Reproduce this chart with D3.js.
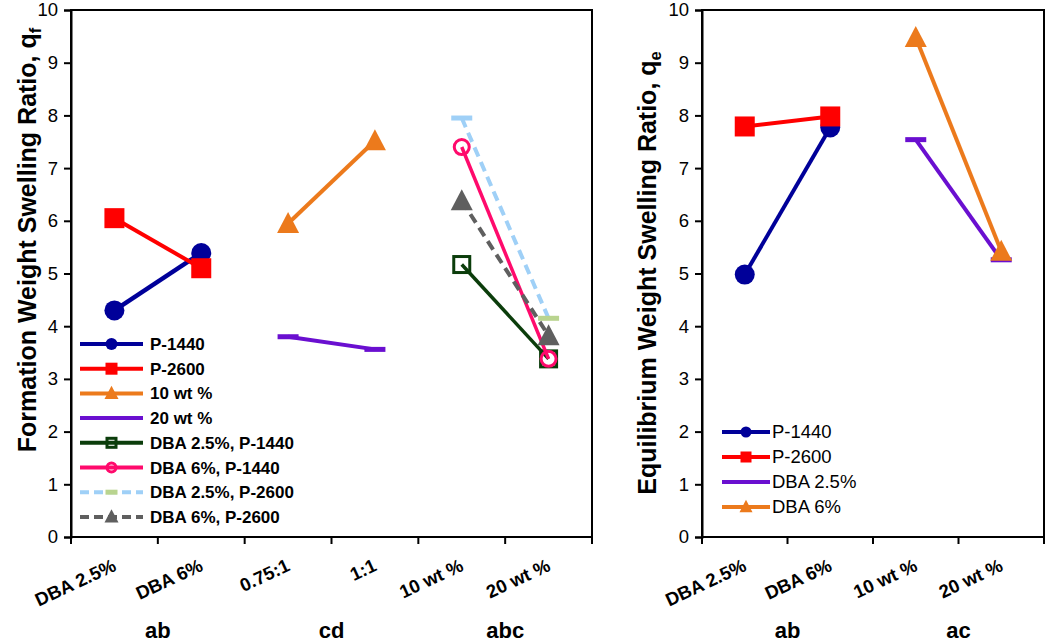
<!DOCTYPE html>
<html><head><meta charset="utf-8">
<script src="https://cdn.jsdelivr.net/npm/d3@7/dist/d3.min.js"></script>
<style>body{margin:0;background:#fff;} svg{display:block;font-family:"Liberation Sans",Arial,sans-serif;}</style>
</head><body>
<svg id="c" width="1050" height="643"></svg>
<script>
// ---------- DATA ----------
const leftCats = ["DBA 2.5%", "DBA 6%", "0.75:1", "1:1", "10 wt %", "20 wt %"];
const rightCats = ["DBA 2.5%", "DBA 6%", "10 wt %", "20 wt %"];
const yTicks = [0,1,2,3,4,5,6,7,8,9,10];
const leftGroups = ["ab", "cd", "abc"];
const rightGroups = ["ab", "ac"];

// Formation swelling ratio q_f (left)
const p1440F = [4.30, 5.39];          // DBA 2.5%, DBA 6%
const p2600F = [6.05, 5.10];
const wt10F = [5.95, 7.52];           // 0.75:1, 1:1
const wt20F = [3.80, 3.56];
const dba25p1440F = [5.17, 3.38];     // 10 wt %, 20 wt %
const dba6p1440F = [7.40, 3.38];
const dba25p2600F = [7.95, 4.15];
const dba6p2600F = [6.38, 3.82];

// Equilibrium swelling ratio q_e (right)
const p1440E = [4.98, 7.77];          // DBA 2.5%, DBA 6%
const p2600E = [7.79, 7.98];
const dba25E = [7.54, 5.26];          // 10 wt %, 20 wt %
const dba6E = [9.48, 5.42];

// ---------- STYLES ----------
const leftSeries = [
  {name:"P-1440", cats:["DBA 2.5%","DBA 6%"], vals:p1440F, color:"#000099", w:4.5, marker:"circle"},
  {name:"P-2600", cats:["DBA 2.5%","DBA 6%"], vals:p2600F, color:"#ff0000", w:4, marker:"square"},
  {name:"10 wt %", cats:["0.75:1","1:1"], vals:wt10F, color:"#ec7a1c", w:4, marker:"triangle"},
  {name:"20 wt %", cats:["0.75:1","1:1"], vals:wt20F, color:"#6a0fd0", w:4, marker:"dash"},
  {name:"DBA 2.5%, P-1440", cats:["10 wt %","20 wt %"], vals:dba25p1440F, color:"#0b3d0b", w:3.5, marker:"hsquare"},
  {name:"DBA 6%, P-1440", cats:["10 wt %","20 wt %"], vals:dba6p1440F, color:"#ff0a6c", w:3.5, marker:"hcircle"},
  {name:"DBA 2.5%, P-2600", cats:["10 wt %","20 wt %"], vals:dba25p2600F, color:"#9fd0f7", w:4, dash:"10,6", marker:"dash", mcolors:["#9fd0f7","#b9d48f"]},
  {name:"DBA 6%, P-2600", cats:["10 wt %","20 wt %"], vals:dba6p2600F, color:"#5f5f5f", w:4, dash:"10,6", marker:"triangle"}
];
const rightSeries = [
  {name:"P-1440", cats:["DBA 2.5%","DBA 6%"], vals:p1440E, color:"#000099", w:4, marker:"circle"},
  {name:"P-2600", cats:["DBA 2.5%","DBA 6%"], vals:p2600E, color:"#ff0000", w:4, marker:"square"},
  {name:"DBA 2.5%", cats:["10 wt %","20 wt %"], vals:dba25E, color:"#6a0fd0", w:4, marker:"dash"},
  {name:"DBA 6%", cats:["10 wt %","20 wt %"], vals:dba6E, color:"#ec7a1c", w:4, marker:"triangle"}
];

const svg = d3.select("#c");
const y = d3.scaleLinear().domain([0,10]).range([537, 10]);

function drawMarker(g, type, cx, cy, color, s) {
  if (type === "circle") {
    g.append("circle").attr("cx",cx).attr("cy",cy).attr("r",s/2).attr("fill",color);
  } else if (type === "square") {
    g.append("rect").attr("x",cx-s/2).attr("y",cy-s/2).attr("width",s).attr("height",s).attr("fill",color);
  } else if (type === "triangle") {
    const h = s*0.95;
    g.append("path").attr("d",`M${cx},${cy-h/2-2}L${cx+s/2+1},${cy+h/2}L${cx-s/2-1},${cy+h/2}Z`).attr("fill",color);
  } else if (type === "dash") {
    g.append("rect").attr("x",cx-s/2).attr("y",cy-2.5).attr("width",s).attr("height",5).attr("fill",color);
  } else if (type === "hsquare") {
    g.append("rect").attr("x",cx-s/2+1.5).attr("y",cy-s/2+1.5).attr("width",s-3).attr("height",s-3).attr("fill","none").attr("stroke",color).attr("stroke-width",3);
  } else if (type === "hcircle") {
    g.append("circle").attr("cx",cx).attr("cy",cy).attr("r",s/2-1.5).attr("fill","none").attr("stroke",color).attr("stroke-width",3);
  }
}

function panel(cfg) {
  const {x0, x1, cats, series, groups, title, sub, titleX, titleY, legend} = cfg;
  const x = d3.scaleBand().domain(cats).range([x0, x1]);
  const bw = x.bandwidth();
  const g = svg.append("g");

  g.append("rect").attr("x",x0).attr("y",y(10)).attr("width",x1-x0).attr("height",y(0)-y(10))
    .attr("fill","none").attr("stroke","#000").attr("stroke-width",2);

  const ya = g.append("g").attr("transform",`translate(${x0},0)`)
    .call(d3.axisLeft(y).tickValues(yTicks).tickSize(7).tickPadding(6).tickFormat(d3.format("d")));
  ya.select(".domain").attr("stroke-width",2);
  ya.selectAll(".tick line").attr("stroke-width",2);
  ya.selectAll("text").attr("font-size",18.5).attr("fill","#000").attr("font-family","Liberation Sans, Arial");

  const xa = g.append("g").attr("transform",`translate(0,${y(0)})`);
  const bounds = cats.map(c => x(c)).concat([x1]);
  xa.selectAll("line").data(bounds).join("line")
    .attr("x1",d=>d).attr("x2",d=>d).attr("y1",0).attr("y2",7).attr("stroke","#000").attr("stroke-width",2);
  xa.selectAll("text").data(cats).join("text")
    .attr("transform",c=>`translate(${x(c)+bw/2+3},${33}) rotate(-25)`)
    .attr("text-anchor","end").attr("font-size",18.5).attr("font-weight","bold").text(c=>c);

  groups.forEach((t,i)=>{
    g.append("text").attr("x",x(cats[2*i])+bw).attr("y",638).attr("text-anchor","middle")
      .attr("font-size",22).attr("font-weight","bold").text(t);
  });

  const tt = g.append("text").attr("transform",`translate(${titleX},${titleY}) rotate(-90)`)
    .attr("text-anchor","middle").attr("font-size",25).attr("font-weight","bold");
  tt.append("tspan").text(title);
  tt.append("tspan").attr("font-size",16.5).attr("dy",5).text(sub);

  series.forEach(s=>{
    const pts = s.cats.map((c,i)=>[x(c)+bw/2, y(s.vals[i])]);
    g.append("path").attr("d",d3.line()(pts)).attr("fill","none").attr("stroke",s.color)
      .attr("stroke-width",s.w).attr("stroke-dasharray",s.dash||null);
    pts.forEach((p,i)=>{
      const col = s.mcolors ? s.mcolors[i] : s.color;
      const sz = s.marker==="dash"?21:(s.marker==="hsquare"?19:(s.marker==="hcircle"?18:20));
      drawMarker(g, s.marker, p[0], p[1], col, sz);
    });
  });

  const lg = g.append("g");
  series.forEach((s,i)=>{
    const ly = legend.y + i*legend.dy;
    lg.append("line").attr("x1",legend.x).attr("x2",legend.x+legend.len).attr("y1",ly).attr("y2",ly)
      .attr("stroke",s.color).attr("stroke-width",4).attr("stroke-dasharray",s.dash?"9,5":null);
    const mc = s.mcolors ? s.mcolors[1] : s.color;
    if (s.marker!=="dash") drawMarker(lg, s.marker, legend.x+legend.len/2, ly, mc, legend.msize);
    else if (s.mcolors) lg.append("rect").attr("x",legend.x+legend.len/2-6).attr("y",ly-2.5).attr("width",12).attr("height",5).attr("fill",mc);
    lg.append("text").attr("x",legend.x+legend.len+legend.gap).attr("y",ly+6).attr("font-size",legend.fs)
      .attr("font-weight",legend.bold?"bold":"normal").text(s.name);
  });
}

panel({x0:71, x1:592, cats:leftCats, series:leftSeries, groups:leftGroups,
  title:"Formation Weight Swelling Ratio, q", sub:"f", titleX:36, titleY:240,
  legend:{x:80, y:344, dy:24.7, len:63, gap:7, fs:17, bold:true, msize:12}});
panel({x0:702, x1:1044, cats:rightCats, series:rightSeries, groups:rightGroups,
  title:"Equilibrium Weight Swelling Ratio, q", sub:"e", titleX:656, titleY:273,
  legend:{x:722, y:432, dy:25, len:48, gap:2, fs:18.5, bold:false, msize:11}});
</script>
</body></html>
